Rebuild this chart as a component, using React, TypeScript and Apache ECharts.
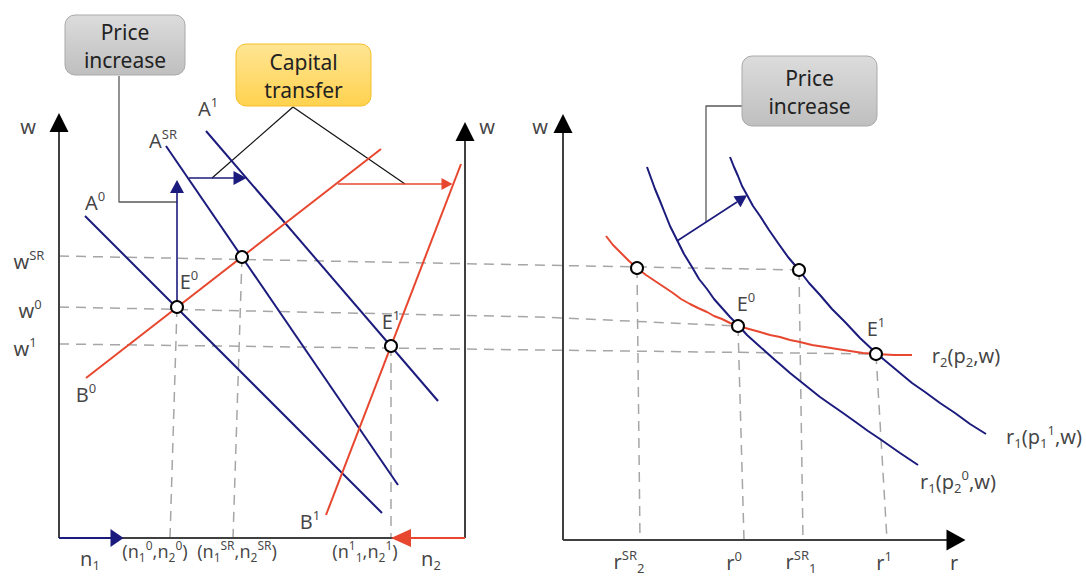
import React, { useEffect, useRef } from 'react';
import * as echarts from 'echarts';

const FONT = '"Noto Sans", "Open Sans", sans-serif';
const BLUE = '#1b1b7d';
const RED = '#e8472f';
const AXIS = '#404040';
const DASH = '#a6a6a6';

// ---- diagram coordinate frame (hidden axes) ----
const X_RANGE = [0, 1086];
const Y_RANGE = [0, 577];

// ---- axes of both panels ----
const axisLeftW = [[59, 538], [59, 131]];
const axisRightW = [[465, 538], [465, 140]];
const axisN = [[59, 538], [465, 538]];
const axisN1Part = [[59, 538], [111, 538]];
const axisN2Part = [[410, 538], [465, 538]];
const axisPanel2W = [[563, 540], [563, 132]];
const axisR = [[563, 540], [947, 540]];

// ---- left panel schedules ----
const curveA0 = [[85, 216], [382, 513]];
const curveASR = [[166, 146], [398, 485]];
const curveA1 = [[206, 131], [438, 401]];
const curveB0 = [[86, 378], [381, 149]];
const curveB1 = [[326, 515], [461, 164]];

// ---- right panel curves ----
const curveR2 = [[606, 236], [613, 245], [621, 253], [629, 261], [637, 268], [646, 275], [655, 281], [664, 287], [673, 293], [681, 299], [690, 304], [698, 308], [707, 312], [714, 316], [722, 319], [730, 323], [738, 326], [749, 329], [760, 332], [770, 335], [780, 337], [790, 340], [800, 342], [812, 345], [825, 347], [837, 349], [850, 351], [863, 353], [876, 354], [894, 355], [912, 355]];
const curveR1p20 = [[647, 167], [651, 178], [655, 189], [660, 201], [664, 211], [670, 226], [677, 240], [684, 254], [692, 267], [699, 279], [707, 289], [714, 299], [722, 308], [730, 317], [738, 325], [747, 335], [757, 344], [766, 352], [775, 360], [782, 366], [790, 373], [800, 381], [810, 389], [820, 397], [830, 404], [843, 413], [857, 423], [868, 431], [880, 439], [890, 446], [900, 453], [909, 459], [918, 465]];
const curveR1p11 = [[730, 157], [734, 167], [738, 176], [742, 186], [747, 195], [753, 206], [760, 216], [769, 230], [778, 243], [788, 257], [799, 270], [809, 283], [820, 295], [832, 309], [845, 322], [860, 338], [876, 353], [888, 363], [900, 373], [912, 383], [925, 392], [940, 403], [955, 413], [970, 424], [986, 434]];

// ---- dashed guides ----
const guideWSR = [[59, 256], [799, 270]];
const guideW0 = [[59, 307], [540, 317], [738, 326]];
const guideW1 = [[59, 344], [540, 350], [876, 354]];
const guideN0 = [[177, 307], [170, 538]];
const guideNSR = [[242, 257], [233, 538]];
const guideN1 = [[391, 346], [391, 538]];
const guideRSR2 = [[637, 268], [640, 540]];
const guideR0 = [[738, 326], [744, 540]];
const guideRSR1 = [[799, 270], [803, 540]];
const guideR1 = [[876, 354], [887, 540]];

// ---- shift arrows (shafts) ----
const shiftUp = [[177, 307], [177, 193]];
const shiftRightBlue = [[189, 178], [234, 178]];
const shiftRightRed = [[338, 184], [442, 184]];
const shiftCurve = [[677, 241], [737, 202]];

// ---- callout connectors ----
const connectorPriceLeft = [[119, 76], [119, 202], [177, 202]];
const connectorCapitalA = [[293, 107], [212, 178]];
const connectorCapitalB = [[293, 107], [405, 184]];
const connectorPriceRight = [[742, 106], [706, 106], [706, 222]];

// ---- equilibrium points ----
const pointsLeft = [[177, 307], [242, 257], [391, 346]];
const pointsRight = [[637, 268], [738, 326], [799, 270], [876, 354]];

// ---- arrow heads ----
const arrowHeadPos = [[59, 122.5], [465, 131.5], [563, 123.5], [956, 540], [117, 538], [401, 538], [177, 186.5], [240, 178], [447, 184], [742, 198.5]];
const arrowHeadSize = [[19, 19], [19, 19], [19, 19], [21, 19], [18, 13], [18, 20], [14, 13], [14, 13], [12, 11], [13, 12]];
const arrowHeadRotate = [0, 0, 0, -90, -90, 90, 0, -90, -90, -57];
const arrowHeadColor = ['#000', '#000', '#000', '#000', BLUE, RED, BLUE, BLUE, RED, BLUE];

// ---- labels ----
const labelPos = [
  [28, 126], [487, 126], [540, 126],
  [95, 202], [163, 140], [208, 108], [86, 394], [310, 521], [189, 281], [391, 321],
  [29, 261], [30, 310], [25, 348],
  [90, 558], [431, 558], [155, 551], [237, 551], [365, 551],
  [746, 303], [876, 328], [966, 355], [1044, 436], [958, 481],
  [629, 561], [734, 562], [801, 561], [884, 562], [954, 562],
];
const labelText = [
  '{m|w}', '{m|w}', '{m|w}',
  '{m|A}{u|0}', '{m|A}{u|SR}', '{m|A}{u|1}', '{m|B}{u|0}', '{m|B}{u|1}', '{m|E}{u|0}', '{m|E}{u|1}',
  '{m|w}{u|SR}', '{m|w}{u|0}', '{m|w}{u|1}',
  '{m|n}{l|1}', '{m|n}{l|2}',
  '{s|(n}{sl|1}{su|0}{s|,n}{sl|2}{su|0}{s|)}',
  '{s|(n}{sl|1}{su|SR}{s|,n}{sl|2}{su|SR}{s|)}',
  '{s|(n}{su|1}{sl|1}{s|,n}{sl|2}{su|1}{s|)}',
  '{m|E}{u|0}', '{m|E}{u|1}',
  '{m|r}{l|2}{m|(p}{l|2}{m|,w)}',
  '{m|r}{l|1}{m|(p}{l|1}{u|1}{m|,w)}',
  '{m|r}{l|1}{m|(p}{l|2}{u|0}{m|,w)}',
  '{m|r}{u|SR}{l|2}', '{m|r}{u|0}', '{m|r}{u|SR}{l|1}', '{m|r}{u|1}', '{m|r}',
];

// ---- callout boxes ----
const boxTexts = ['Price\nincrease', 'Capital\ntransfer', 'Price\nincrease'];
const boxCorners = [[[65, 15], [185, 75]], [[236, 44], [371, 106]], [[742, 56], [877, 126]]];
const boxKinds = ['gray', 'orange', 'gray'];

export default function App() {
  const ref = useRef<HTMLDivElement>(null);

  useEffect(() => {
    const chart = echarts.init(ref.current as HTMLDivElement, null, { renderer: 'svg' });

    const line = (data: number[][], color: string, width: number, dashed = false, z = 2) => ({
      type: 'line',
      data,
      symbol: 'none',
      silent: true,
      z,
      smooth: false,
      lineStyle: { color, width, type: dashed ? [10, 7] : 'solid', cap: 'butt', join: 'round' },
      emphasis: { disabled: true },
    });

    const rich = {
      m: { fontFamily: FONT, fontSize: 20, color: '#111', lineHeight: 26 },
      u: { fontFamily: FONT, fontSize: 13, color: '#111', lineHeight: 16, verticalAlign: 'top' },
      l: { fontFamily: FONT, fontSize: 13, color: '#111', lineHeight: 10, verticalAlign: 'bottom' },
      s: { fontFamily: FONT, fontSize: 18, color: '#111', lineHeight: 24 },
      su: { fontFamily: FONT, fontSize: 12, color: '#111', lineHeight: 14, verticalAlign: 'top' },
      sl: { fontFamily: FONT, fontSize: 12, color: '#111', lineHeight: 10, verticalAlign: 'bottom' },
    };

    const series: any[] = [
      // dashed guides
      ...[guideWSR, guideW0, guideW1, guideN0, guideNSR, guideN1, guideRSR2, guideR0, guideRSR1, guideR1].map((g) => line(g, DASH, 1.5, true, 1)),
      // axes
      line(axisLeftW, AXIS, 2),
      line(axisRightW, AXIS, 2),
      line(axisN, AXIS, 2),
      line(axisN1Part, BLUE, 2.2),
      line(axisN2Part, RED, 2.2),
      line(axisPanel2W, AXIS, 2),
      line(axisR, AXIS, 2),
      // connectors
      line(connectorPriceLeft, '#595959', 1.3),
      line(connectorCapitalA, '#111', 1.2),
      line(connectorCapitalB, '#111', 1.2),
      line(connectorPriceRight, '#595959', 1.3),
      // left schedules
      line(curveA0, BLUE, 2),
      line(curveASR, BLUE, 2),
      line(curveA1, BLUE, 2),
      line(curveB0, RED, 2),
      line(curveB1, RED, 2),
      // right curves
      line(curveR2, RED, 2),
      line(curveR1p20, BLUE, 2),
      line(curveR1p11, BLUE, 2),
      // shift shafts
      line(shiftUp, BLUE, 1.6),
      line(shiftRightBlue, BLUE, 1.6),
      line(shiftRightRed, RED, 1.6),
      line(shiftCurve, BLUE, 1.6),
      // arrow heads
      {
        type: 'scatter',
        silent: true,
        z: 4,
        symbol: 'triangle',
        itemStyle: { opacity: 1 },
        data: arrowHeadPos.map((p, i) => ({
          value: p,
          symbolSize: arrowHeadSize[i],
          symbolRotate: arrowHeadRotate[i],
          itemStyle: { color: arrowHeadColor[i], opacity: 1 },
        })),
      },
      // equilibrium circles
      {
        type: 'scatter',
        silent: true,
        z: 5,
        symbol: 'circle',
        symbolSize: 12,
        itemStyle: { color: '#fff', borderColor: '#000', borderWidth: 2, opacity: 1 },
        data: [...pointsLeft, ...pointsRight],
      },
      // labels
      {
        type: 'scatter',
        silent: true,
        z: 6,
        symbol: 'circle',
        symbolSize: 1,
        itemStyle: { color: 'rgba(0,0,0,0)' },
        label: {
          show: true,
          position: 'inside',
          color: '#111',
          formatter: (p: any) => p.data.txt,
          rich,
        },
        data: labelPos.map((p, i) => ({ value: p, txt: labelText[i] })),
      },
    ];

    chart.setOption({
      animation: false,
      grid: { left: 0, right: 0, top: 0, bottom: 0 },
      xAxis: { type: 'value', min: X_RANGE[0], max: X_RANGE[1], show: false },
      yAxis: { type: 'value', min: Y_RANGE[0], max: Y_RANGE[1], inverse: true, show: false },
      series,
    });

    const px = (p: number[]) => chart.convertToPixel({ gridIndex: 0 }, p) as number[];
    const graphic: any[] = [];
    boxCorners.forEach((c, i) => {
      const a = px(c[0]);
      const b = px(c[1]);
      const gray = boxKinds[i] === 'gray';
      graphic.push({
        type: 'rect',
        z: 10,
        shape: { x: a[0], y: a[1], width: b[0] - a[0], height: b[1] - a[1], r: 10 },
        style: {
          fill: new echarts.graphic.LinearGradient(0, 0, 0, 1, gray
            ? [{ offset: 0, color: '#dcdcdc' }, { offset: 1, color: '#bfbfbf' }]
            : [{ offset: 0, color: '#ffe594' }, { offset: 1, color: '#ffd24f' }]),
          stroke: gray ? '#a9a9a9' : '#f5bf2a',
          lineWidth: 1,
        },
      });
      graphic.push({
        type: 'text',
        z: 11,
        x: (a[0] + b[0]) / 2,
        y: (a[1] + b[1]) / 2 + 1,
        style: {
          text: boxTexts[i],
          fill: '#222',
          fontSize: 21,
          fontFamily: FONT,
          lineHeight: 28,
          align: 'center',
          verticalAlign: 'middle',
          textAlign: 'center',
          textVerticalAlign: 'middle',
        },
      });
    });
    chart.setOption({ graphic });

    return () => chart.dispose();
  }, []);

  return (
    <div
      ref={ref}
      style={{ position: 'fixed', left: 0, top: 0, width: 1086, height: 577, background: '#fff' }}
    />
  );
}
